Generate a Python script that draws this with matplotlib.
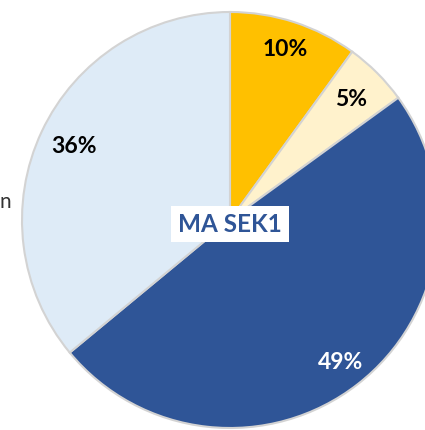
import matplotlib
matplotlib.use("Agg")
import numpy as np
import matplotlib.pyplot as plt

# share of students per category, clockwise from 12 o'clock
LABELS = ["A", "B", "C", "D"]
SHARES = [10, 5, 49, 36]
COLORS = ["#FFC000", "#FFF2CC", "#2F5597", "#DEEBF7"]
PCT_COLORS = ["black", "black", "white", "black"]
PCT_DIST = [0.86, 0.82, 0.87, 0.83]
CENTER_LABEL = "MA SEK1"
SIDE_LABEL = "n"

plt.rcParams["font.family"] = ["Lato", "DejaVu Sans"]

fig = plt.figure(figsize=(4.25, 4.3), dpi=100)
ax = fig.add_axes([0, 0, 1, 1])

cx, cy, r = 230, 210, 208
wedges, _ = ax.pie(
    SHARES,
    colors=COLORS,
    startangle=90,
    counterclock=False,
    center=(cx, cy),
    radius=r,
    wedgeprops=dict(edgecolor="#d3d3d3", linewidth=1.5),
    frame=True,
)
ax.set_xlim(0, 425)
ax.set_ylim(0, 430)
ax.set_aspect("equal")
ax.axis("off")

for w, val, c, d in zip(wedges, SHARES, PCT_COLORS, PCT_DIST):
    ang = np.deg2rad((w.theta1 + w.theta2) / 2)
    ax.text(cx + d * r * np.cos(ang), cy + d * r * np.sin(ang), f"{val}%",
            ha="center", va="center", fontsize=16.5, fontweight="bold", color=c)

ax.text(cx, cy - 4, CENTER_LABEL, ha="center", va="center", fontsize=17.5,
        fontweight="bold", color="#2F5597",
        bbox=dict(boxstyle="square,pad=0.28", facecolor="white", edgecolor="none"))

ax.text(11, 228, SIDE_LABEL, ha="right", va="center", fontsize=15, color="#333333")

fig.savefig("out.png", dpi=100)
